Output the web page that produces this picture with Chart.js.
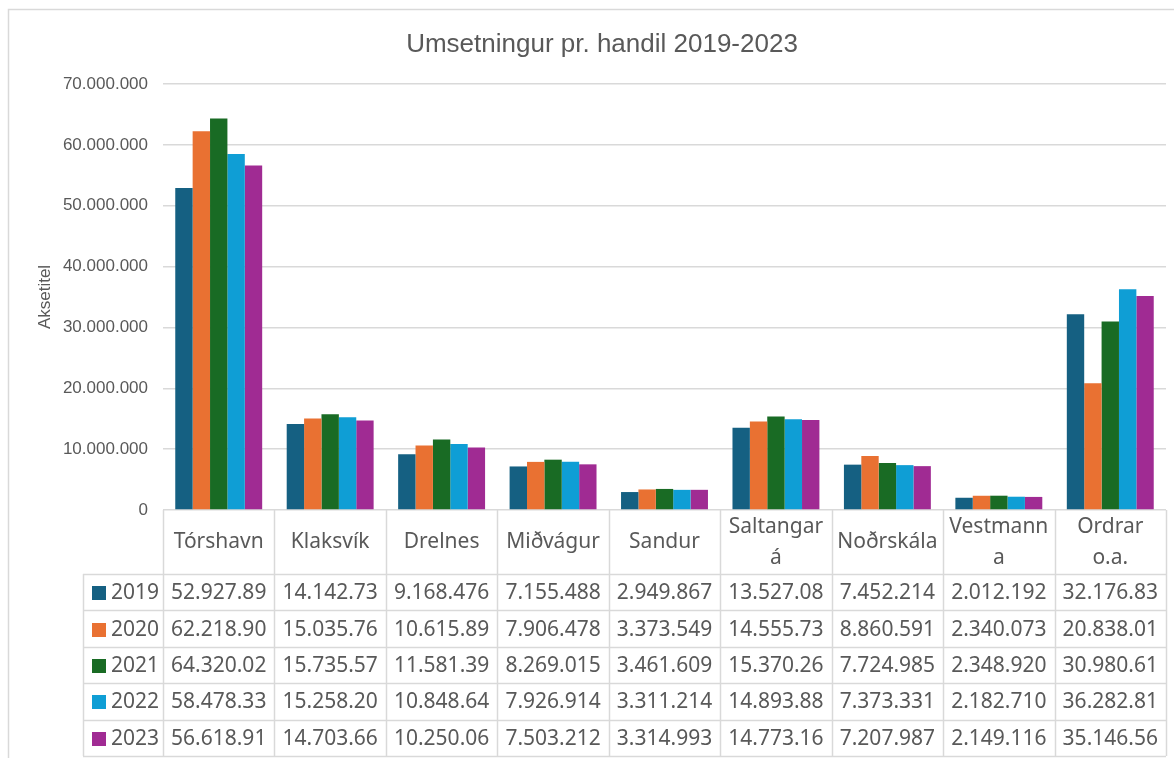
<!DOCTYPE html>
<html>
<head>
<meta charset="utf-8">
<title>Umsetningur pr. handil 2019-2023</title>
<script src="https://cdn.jsdelivr.net/npm/chart.js@4.4.1/dist/chart.umd.min.js"></script>
<style>
    html, body { margin: 0; padding: 0; background: #ffffff; }
    canvas { display: block; }
</style>
</head>
<body>
<canvas id="chart" width="1174" height="758"></canvas>
<script>
// Data
const titleText = 'Umsetningur pr. handil 2019-2023';
const axisTitle = 'Aksetitel';
const places = ['Tórshavn', 'Klaksvík', 'Drelnes', 'Miðvágur', 'Sandur', ['Saltangar', 'á'], 'Noðrskála', ['Vestmann', 'a'], ['Ordrar', 'o.a.']];
const years = ['2019', '2020', '2021', '2022', '2023'];
const yearColors = ['#156082', '#E97132', '#196B24', '#0F9ED5', '#A02B93'];

const values2019 = [52927890, 14142730, 9168476, 7155488, 2949867, 13527080, 7452214, 2012192, 32176830];
const values2020 = [62218900, 15035760, 10615890, 7906478, 3373549, 14555730, 8860591, 2340073, 20838010];
const values2021 = [64320020, 15735570, 11581390, 8269015, 3461609, 15370260, 7724985, 2348920, 30980610];
const values2022 = [58478330, 15258200, 10848640, 7926914, 3311214, 14893880, 7373331, 2182710, 36282810];
const values2023 = [56618910, 14703660, 10250060, 7503212, 3314993, 14773160, 7207987, 2149116, 35146560];
const allValues = [values2019, values2020, values2021, values2022, values2023];

const yMax = 70000000;
const yStep = 10000000;

// Styles
const textColor = '#595959';
const lineColor = '#d9d9d9';
const tableFont = '21px "Noto Sans", "Open Sans", sans-serif';

// Format 12345678 -> 12.345.678
function formatDots(v) {
    return String(Math.round(v)).replace(/\B(?=(\d{3})+(?!\d))/g, '.');
}

// Cut text like Excel does when the cell is too narrow
function fitText(ctx, text, maxWidth) {
    let t = text;
    while (t.length > 1 && ctx.measureText(t).width > maxWidth) {
        t = t.slice(0, -1);
    }
    return t;
}

// Frame + title
const framePlugin = {
    id: 'frame',
    beforeDraw(chart) {
        const ctx = chart.ctx;
        ctx.save();
        ctx.strokeStyle = lineColor;
        ctx.lineWidth = 1.5;
        ctx.strokeRect(8.5, 9.5, 1300, 900);
        ctx.fillStyle = textColor;
        ctx.font = '26px "Liberation Sans", Arial, sans-serif';
        ctx.textAlign = 'center';
        ctx.textBaseline = 'alphabetic';
        ctx.fillText(titleText, 602, 52);
        ctx.restore();
    }
};

// Data table under the plot
const tablePlugin = {
    id: 'dataTable',
    afterDraw(chart) {
        const ctx = chart.ctx;
        const x = chart.scales.x;
        const area = chart.chartArea;
        const colW = (area.right - area.left) / places.length;
        const top = area.bottom;
        const headerBottom = 574;
        const rowH = 36.4;
        const tableBottom = headerBottom + rowH * years.length;
        const legendLeft = 83;

        ctx.save();
        ctx.strokeStyle = lineColor;
        ctx.lineWidth = 1.5;

        // vertical lines
        for (let i = 0; i <= places.length; i++) {
            const lx = Math.round(area.left + i * colW) + 0.5;
            ctx.beginPath();
            ctx.moveTo(lx, top);
            ctx.lineTo(lx, tableBottom);
            ctx.stroke();
        }
        ctx.beginPath();
        ctx.moveTo(legendLeft + 0.5, headerBottom);
        ctx.lineTo(legendLeft + 0.5, tableBottom);
        ctx.stroke();

        // horizontal lines
        for (let r = 0; r <= years.length; r++) {
            const ly = Math.round(headerBottom + r * rowH) + 0.5;
            ctx.beginPath();
            ctx.moveTo(legendLeft, ly);
            ctx.lineTo(area.right, ly);
            ctx.stroke();
        }

        ctx.font = tableFont;
        ctx.fillStyle = textColor;
        ctx.textBaseline = 'middle';

        // header
        ctx.textAlign = 'center';
        places.forEach((p, i) => {
            const cx = x.getPixelForValue(i);
            const mid = (top + headerBottom) / 2;
            if (Array.isArray(p)) {
                ctx.fillText(p[0], cx, mid - 15);
                ctx.fillText(p[1], cx, mid + 16);
            } else {
                ctx.fillText(p, cx, mid);
            }
        });

        // rows
        years.forEach((year, r) => {
            const cy = headerBottom + r * rowH + rowH / 2 + 1;
            ctx.fillStyle = yearColors[r];
            ctx.fillRect(92, Math.round(cy - 7), 14, 14);
            ctx.fillStyle = textColor;
            ctx.textAlign = 'left';
            ctx.fillText(year, 111, cy);
            ctx.textAlign = 'center';
            allValues[r].forEach((v, i) => {
                const cx = x.getPixelForValue(i);
                ctx.fillText(fitText(ctx, formatDots(v), colW - 6), cx, cy);
            });
        });
        ctx.restore();
    }
};

// Chart
const datasets = years.map((year, i) => ({
    label: year,
    data: allValues[i],
    backgroundColor: yearColors[i],
    borderWidth: 0,
    categoryPercentage: 0.78,
    barPercentage: 1
}));

new Chart(document.getElementById('chart').getContext('2d'), {
    type: 'bar',
    data: {
        labels: places,
        datasets: datasets
    },
    options: {
        responsive: false,
        animation: false,
        layout: {
            padding: { left: 0, right: 8, top: 84, bottom: 248 }
        },
        plugins: {
            legend: { display: false },
            title: { display: false },
            tooltip: { enabled: false }
        },
        scales: {
            x: {
                display: false
            },
            y: {
                min: 0,
                max: yMax,
                border: { display: false },
                grid: {
                    color: lineColor,
                    lineWidth: 1.5,
                    drawTicks: false
                },
                ticks: {
                    stepSize: yStep,
                    padding: 15,
                    color: textColor,
                    font: { family: '"Liberation Sans", Arial, sans-serif', size: 17 },
                    callback: function(value) {
                        return formatDots(value);
                    }
                },
                title: {
                    display: true,
                    text: axisTitle,
                    color: textColor,
                    font: { family: '"Liberation Sans", Arial, sans-serif', size: 17 },
                    padding: { top: 35, bottom: 0 }
                },
                afterFit: function(scale) {
                    scale.width = 163;
                }
            }
        }
    },
    plugins: [framePlugin, tablePlugin]
});
</script>
</body>
</html>
